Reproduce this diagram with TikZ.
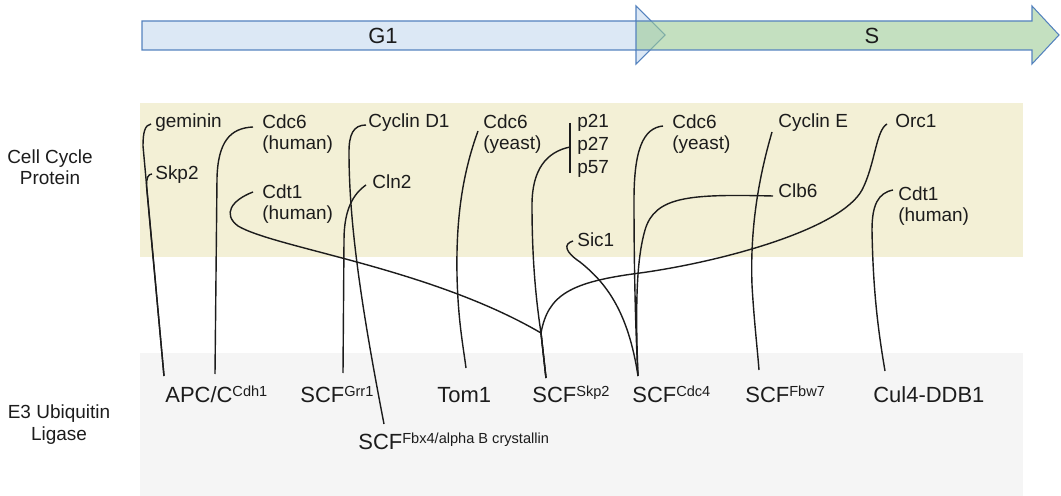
\documentclass[tikz,border=0pt]{standalone}
\usepackage{fontspec}
\setmainfont{Liberation Sans}
\usetikzlibrary{calc}
\usetikzlibrary{positioning}
\definecolor{bandyellow}{RGB}{243,240,214}
\definecolor{bandgray}{RGB}{245,245,245}
\definecolor{phaseblue}{RGB}{220,232,245}
\definecolor{phasegreen}{RGB}{157,203,150}
\definecolor{phaseline}{RGB}{84,130,190}
\definecolor{ink}{RGB}{28,28,28}
\newcommand{\supx}[1]{\raisebox{3.1pt}{\fontsize{8.3}{9}\selectfont #1}}

\begin{document}
\begin{tikzpicture}[x=0.02cm, y=-0.02cm,
	lbl/.style={anchor=base west, inner sep=0pt, align=left, font=\fontsize{10.8}{12.5}\selectfont, text=ink},
	lig/.style={anchor=base west, inner sep=0pt, font=\fontsize{12.5}{15}\selectfont, text=ink},
	side/.style={anchor=base, inner sep=0pt, align=center, font=\fontsize{10.8}{12.5}\selectfont, text=ink},
	link/.style={draw=ink, line width=0.8pt}]
	\useasboundingbox (0,0) rectangle (1061,496);
	
	% bands
	\fill[bandyellow] (140,103) rectangle (1023,257);
	\fill[bandgray] (140,353) rectangle (1023,496);
	
	% phases
	\filldraw[fill=phaseblue, draw=phaseline, line width=0.6pt] (142,21) -- (636,21) -- (636,6) -- (665,35) -- (636,64) -- (636,50) -- (142,50) -- cycle;
	\filldraw[fill=phasegreen, fill opacity=0.6, draw=phaseline, line width=0.6pt] (636,21) -- (1032,21) -- (1032,6) -- (1059,35) -- (1032,64) -- (1032,50) -- (636,50) -- cycle;
	\node[font=\fontsize{12.5}{15}\selectfont, text=ink] (g1) at (383,36) {G1};
	\node[font=\fontsize{12.5}{15}\selectfont, text=ink] (s) at (872,36) {S};
	
	% two-line nodes sit on the baseline of their last line
	\node[side] (ccp) at (50,185) {Cell Cycle\\Protein};
	\node[side] (e3) at (59,440) {E3 Ubiquitin\\Ligase};
	
	% proteins
	\node[lbl] (gem) at (155,128) {geminin};
	\node[lbl] (skp) at (155,180) {Skp2};
	\node[lbl] (cdcH) at (262,150) {Cdc6\\(human)};
	\node[lbl] (cdtH) at (262,220) {Cdt1\\(human)};
	\node[lbl] (cycD) at (368,128) {Cyclin D1};
	\node[lbl] (cln) at (372,189) {Cln2};
	\node[lbl] (cdcY) at (483,150) {Cdc6\\(yeast)};
	\node[lbl] (pA) at (577,128) {p21};
	\node[lbl] (pB) at (577,151) {p27};
	\node[lbl] (pC) at (577,174) {p57};
	\node[lbl] (sic) at (577,247) {Sic1};
	\node[lbl] (cdcY2) at (672,150) {Cdc6\\(yeast)};
	\node[lbl] (cycE) at (778,128) {Cyclin E};
	\node[lbl] (orc) at (895,128) {Orc1};
	\node[lbl] (clb) at (778,198) {Clb6};
	\node[lbl] (cdtH2) at (898,222) {Cdt1\\(human)};
	
	% ligases
	\node[lig] (apc) at (165,402) {APC/C\supx{Cdh1}};
	\node[lig] (grr) at (300,402) {SCF\supx{Grr1}};
	\node[lig] (fbx) at (358,449) {SCF\supx{Fbx4/alpha B crystallin}};
	\node[lig] (tom) at (437,402) {Tom1};
	\node[lig] (skpL) at (532,402) {SCF\supx{Skp2}};
	\node[lig] (cdc4) at (632,402) {SCF\supx{Cdc4}};
	\node[lig] (fbw) at (745,402) {SCF\supx{Fbw7}};
	\node[lig] (cul) at (873,402) {Cul4-DDB1};
	
	\coordinate (hub) at (541,333);
	
	\draw[link] ($(gem.base west)+(-4,-4)$) .. controls (145,125) and (143,132) .. (143,146) -- ($(apc.base west)+(-1,-26)$);
	\draw[link] ($(skp.base west)+(-3,-6)$) .. controls (148,174) and (146.5,178) .. (146.5,186) -- ($(apc.base west)+(-1,-26)$);
	\draw[link] ($(cdcH.base west)+(-9,-23)$) .. controls (230,128) and (218,142) .. (217,178) -- ($(apc.base west)+(50,-28)$);
	\draw[link] ($(cdtH.base west)+(-9,-28)$) .. controls (232,200) and (222,214) .. (238,226) .. controls (275,248) and (430,268) .. (hub) -- ($(skpL.base west)+(14,-24)$);
	\draw[link] ($(cycD.base west)+(-2,-3)$) .. controls (353,125) and (349,135) .. (349,152) .. controls (349,220) and (360,300) .. ($(fbx.base west)+(26,-25)$);
	\draw[link] ($(cln.base west)+(-6,-4)$) .. controls (353,194) and (344,210) .. (344,240) -- ($(grr.base west)+(43,-29)$);
	\draw[link] ($(cdcY.base west)+(-5,-19)$) .. controls (462,175) and (456,220) .. (457,275) .. controls (458,320) and (463,345) .. ($(tom.base west)+(29,-34)$);
	\draw[link] ($(pA.base west)+(-7,-5)$) -- ($(pC.base west)+(-7,-1)$);
	\draw[link] ($(pB.base west)+(-7,-4)$) .. controls (546,152) and (532,170) .. (532,205) .. controls (532,260) and (536,300) .. (hub) -- ($(skpL.base west)+(14,-24)$);
	\draw[link] ($(orc.base west)+(-8,-4)$) .. controls (876,130) and (875,165) .. (862,190) .. controls (840,230) and (720,262) .. (640,273) .. controls (570,282) and (548,295) .. (hub) -- ($(skpL.base west)+(14,-24)$);
	\draw[link] ($(sic.base west)+(-4,-6)$) .. controls (563,244) and (565,252) .. (580,262) .. controls (605,282) and (628,310) .. ($(cdc4.base west)+(6,-26)$);
	\draw[link] ($(cdcY2.base west)+(-9,-24)$) .. controls (643,128) and (634,150) .. (634,200) .. controls (634,280) and (636,340) .. ($(cdc4.base west)+(6,-26)$);
	\draw[link] ($(clb.base west)+(-5,-2)$) .. controls (690,194) and (655,196) .. (645,230) .. controls (637,258) and (635,300) .. ($(cdc4.base west)+(6,-26)$);
	\draw[link] ($(cycE.base west)+(-6,4)$) .. controls (758,180) and (750,230) .. (752,285) .. controls (754,320) and (757,345) .. ($(fbw.base west)+(14,-32)$);
	\draw[link] ($(cdtH2.base west)+(-5,-32)$) .. controls (878,193) and (872,205) .. (872,230) .. controls (873,290) and (878,330) .. ($(cul.base west)+(12,-31)$);
	
\end{tikzpicture}
\end{document}
